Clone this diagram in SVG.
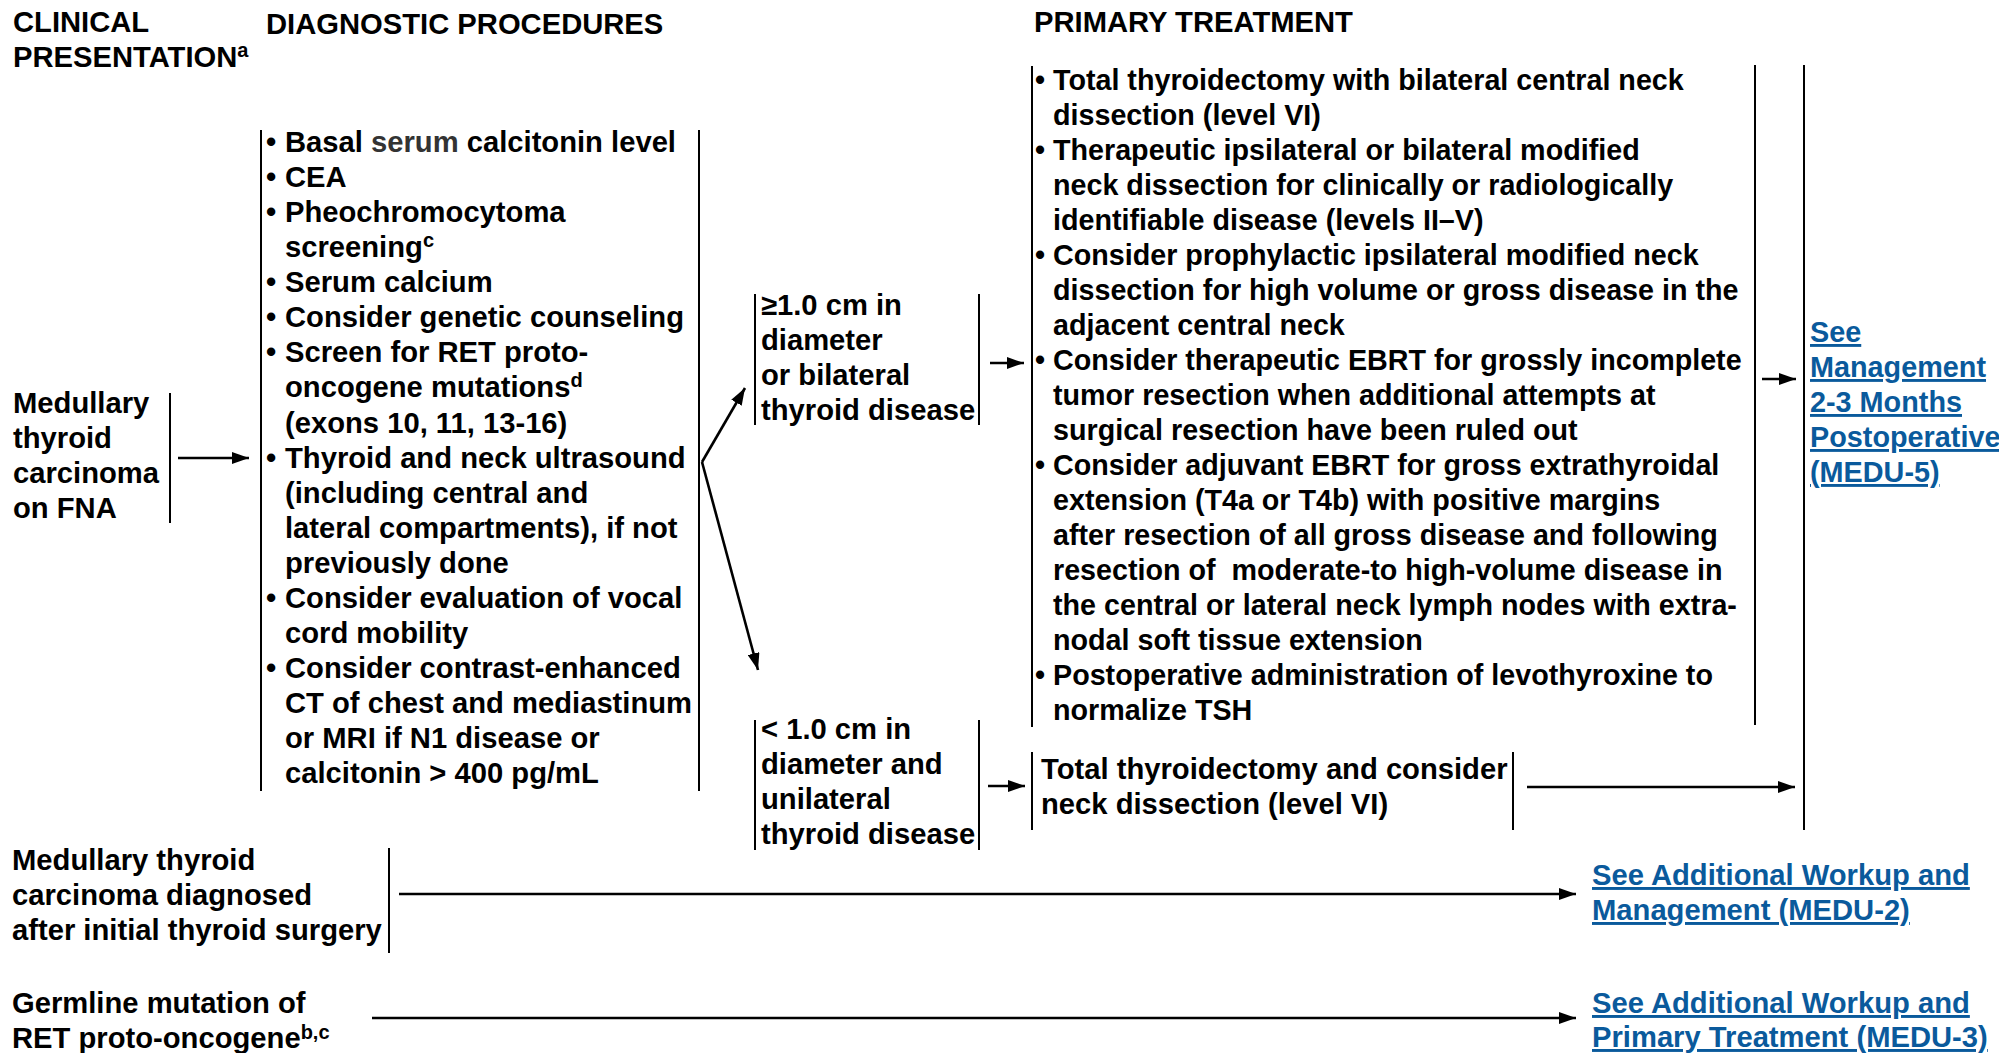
<svg xmlns="http://www.w3.org/2000/svg" width="1999" height="1053" viewBox="0 0 1999 1053">
<defs>
<style>
text{font-family:"Liberation Sans",Arial,Helvetica,sans-serif;font-weight:bold;font-size:29.2px;fill:#000}
.tr{font-size:28.7px}
.lk{fill:#0a5a9c;text-decoration:underline}
.m5{font-size:28.8px}
.sup{font-size:20px}
.br{stroke:#000;stroke-width:2;fill:none}
.cn{stroke:#000;stroke-width:2.6;fill:none}
</style>
<marker id="ah" markerWidth="17" markerHeight="12" refX="17" refY="6" orient="auto" markerUnits="userSpaceOnUse"><path d="M0,0 L17,6 L0,12 z" fill="#000"/></marker>
</defs>
<rect width="1999" height="1053" fill="#fff"/>

<g id="headers">
<text x="13" y="32">CLINICAL</text>
<text x="13" y="67">PRESENTATION<tspan class="sup" dy="-10">a</tspan></text>
<text x="266" y="34">DIAGNOSTIC PROCEDURES</text>
<text x="1034" y="32">PRIMARY TREATMENT</text>
</g>

<g id="node-fna">
<text x="13" y="413">Medullary</text>
<text x="13" y="448">thyroid</text>
<text x="13" y="483">carcinoma</text>
<text x="13" y="518">on FNA</text>
<line class="br" x1="170" y1="393" x2="170" y2="523"/>
</g>

<g id="node-diagnostic">
<line class="br" x1="261" y1="130" x2="261" y2="791"/>
<line class="br" x1="699" y1="130" x2="699" y2="791"/>
<text x="266" y="152">•</text><text x="285" y="152">Basal <tspan fill="#333">serum</tspan> calcitonin level</text>
<text x="266" y="187">•</text><text x="285" y="187">CEA</text>
<text x="266" y="222">•</text><text x="285" y="222">Pheochromocytoma</text>
<text x="285" y="257">screening<tspan class="sup" dy="-10">c</tspan></text>
<text x="266" y="292">•</text><text x="285" y="292">Serum calcium</text>
<text x="266" y="327">•</text><text x="285" y="327">Consider genetic counseling</text>
<text x="266" y="362">•</text><text x="285" y="362">Screen for RET proto-</text>
<text x="285" y="397">oncogene mutations<tspan class="sup" dy="-10">d</tspan></text>
<text x="285" y="433">(exons 10, 11, 13-16)</text>
<text x="266" y="468">•</text><text x="285" y="468">Thyroid and neck ultrasound</text>
<text x="285" y="503">(including central and</text>
<text x="285" y="538">lateral compartments), if not</text>
<text x="285" y="573">previously done</text>
<text x="266" y="608">•</text><text x="285" y="608">Consider evaluation of vocal</text>
<text x="285" y="643">cord mobility</text>
<text x="266" y="678">•</text><text x="285" y="678">Consider contrast-enhanced</text>
<text x="285" y="713">CT of chest and mediastinum</text>
<text x="285" y="748">or MRI if N1 disease or</text>
<text x="285" y="783">calcitonin &gt; 400 pg/mL</text>
</g>

<g id="node-large">
<line class="br" x1="755" y1="294" x2="755" y2="425"/>
<line class="br" x1="979" y1="294" x2="979" y2="425"/>
<text x="761" y="315">≥1.0 cm in</text>
<text x="761" y="350">diameter</text>
<text x="761" y="385">or bilateral</text>
<text x="761" y="420">thyroid disease</text>
</g>

<g id="node-small">
<line class="br" x1="755" y1="720" x2="755" y2="850"/>
<line class="br" x1="979" y1="720" x2="979" y2="850"/>
<text x="761" y="739">&lt; 1.0 cm in</text>
<text x="761" y="774">diameter and</text>
<text x="761" y="809">unilateral</text>
<text x="761" y="844">thyroid disease</text>
</g>

<g id="node-treatment">
<line class="br" x1="1032" y1="66" x2="1032" y2="727"/>
<line class="br" x1="1755" y1="65" x2="1755" y2="725"/>
<text class="tr" x="1035" y="90">•</text><text class="tr" x="1053" y="90">Total thyroidectomy with bilateral central neck</text>
<text class="tr" x="1053" y="125">dissection (level VI)</text>
<text class="tr" x="1035" y="160">•</text><text class="tr" x="1053" y="160">Therapeutic ipsilateral or bilateral modified</text>
<text class="tr" x="1053" y="195">neck dissection for clinically or radiologically</text>
<text class="tr" x="1053" y="230">identifiable disease (levels II–V)</text>
<text class="tr" x="1035" y="265">•</text><text class="tr" x="1053" y="265">Consider prophylactic ipsilateral modified neck</text>
<text class="tr" x="1053" y="300">dissection for high volume or gross disease in the</text>
<text class="tr" x="1053" y="335">adjacent central neck</text>
<text class="tr" x="1035" y="370">•</text><text class="tr" x="1053" y="370">Consider therapeutic EBRT for grossly incomplete</text>
<text class="tr" x="1053" y="405">tumor resection when additional attempts at</text>
<text class="tr" x="1053" y="440">surgical resection have been ruled out</text>
<text class="tr" x="1035" y="475">•</text><text class="tr" x="1053" y="475">Consider adjuvant EBRT for gross extrathyroidal</text>
<text class="tr" x="1053" y="510">extension (T4a or T4b) with positive margins</text>
<text class="tr" x="1053" y="545">after resection of all gross disease and following</text>
<text class="tr" x="1053" y="580">resection of&#160; moderate-to high-volume disease in</text>
<text class="tr" x="1053" y="615">the central or lateral neck lymph nodes with extra-</text>
<text class="tr" x="1053" y="650">nodal soft tissue extension</text>
<text class="tr" x="1035" y="685">•</text><text class="tr" x="1053" y="685">Postoperative administration of levothyroxine to</text>
<text class="tr" x="1053" y="720">normalize TSH</text>
</g>

<g id="node-total">
<line class="br" x1="1032" y1="752" x2="1032" y2="830"/>
<line class="br" x1="1513" y1="752" x2="1513" y2="830"/>
<text x="1041" y="779">Total thyroidectomy and consider</text>
<text x="1041" y="814">neck dissection (level VI)</text>
</g>

<g id="node-medu5">
<line class="br" x1="1804" y1="65" x2="1804" y2="830"/>
<text class="lk m5" x="1810" y="342">See</text>
<text class="lk m5" x="1810" y="377">Management</text>
<text class="lk m5" x="1810" y="412">2-3 Months</text>
<text class="lk m5" x="1810" y="447">Postoperative</text>
<text class="lk m5" x="1810" y="482">(MEDU-5)</text>
</g>

<g id="node-after-surgery">
<text x="12" y="870">Medullary thyroid</text>
<text x="12" y="905">carcinoma diagnosed</text>
<text x="12" y="940">after initial thyroid surgery</text>
<line class="br" x1="389" y1="848" x2="389" y2="953"/>
</g>

<g id="node-medu2">
<text class="lk" x="1592" y="885">See Additional Workup and</text>
<text class="lk" x="1592" y="920">Management (MEDU-2)</text>
</g>

<g id="node-germline">
<text x="12" y="1013">Germline mutation of</text>
<text x="12" y="1048">RET proto-oncogene<tspan font-size="20" dy="-9">b,c</tspan></text>
</g>

<g id="node-medu3">
<text class="lk" x="1592" y="1013">See Additional Workup and</text>
<text class="lk" x="1592" y="1047">Primary Treatment (MEDU-3)</text>
</g>

<g id="connectors">
<line class="cn" x1="178" y1="458" x2="249" y2="458" marker-end="url(#ah)"/>
<line class="cn" x1="702" y1="462" x2="745" y2="388" marker-end="url(#ah)"/>
<line class="cn" x1="702" y1="462" x2="758" y2="670" marker-end="url(#ah)"/>
<line class="cn" x1="990" y1="363" x2="1024" y2="363" marker-end="url(#ah)"/>
<line class="cn" x1="988" y1="786" x2="1025" y2="786" marker-end="url(#ah)"/>
<line class="cn" x1="1762" y1="379" x2="1796" y2="379" marker-end="url(#ah)"/>
<line class="cn" x1="1527" y1="787" x2="1795" y2="787" marker-end="url(#ah)"/>
<line class="cn" x1="399" y1="894" x2="1576" y2="894" marker-end="url(#ah)"/>
<line class="cn" x1="372" y1="1018" x2="1576" y2="1018" marker-end="url(#ah)"/>
</g>
</svg>
